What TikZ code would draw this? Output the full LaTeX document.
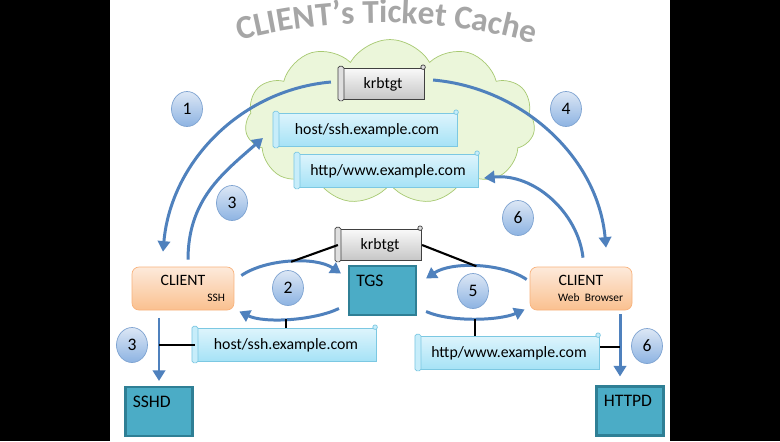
\documentclass[tikz,border=0pt]{standalone}
\usepackage{fontspec}
\setmainfont{Carlito}
\usepackage{tikz}
\usetikzlibrary{shapes.symbols, shapes.geometric, arrows.meta, calc, decorations.text}

\definecolor{flowblue}{HTML}{4F81BD}
\definecolor{cloudfill}{HTML}{EBF6DA}
\definecolor{cloudedge}{HTML}{A7C971}
\definecolor{skytop}{HTML}{DDF4FC}
\definecolor{skybot}{HTML}{A5E2F6}
\definecolor{skyedge}{HTML}{7CC8E2}
\definecolor{orangetop}{HTML}{FDEADB}
\definecolor{orangebot}{HTML}{FAC08F}
\definecolor{orangeedge}{HTML}{F8B27C}
\definecolor{tealfill}{HTML}{4BACC6}
\definecolor{tealedge}{HTML}{2F7F95}
\definecolor{numtop}{HTML}{DCE7F5}
\definecolor{numbot}{HTML}{8DB3E2}
\definecolor{numedge}{HTML}{7EA3D1}

\newcommand\titlefont{\fontsize{19}{19}\selectfont\bfseries\color{gray!70}}
\newcommand\subfont{\fontsize{6.5}{7}\selectfont}

\begin{document}
\begin{tikzpicture}[x=0.02cm, y=-0.02cm,
    flow/.style={draw=flowblue, line width=1.7pt, -{Triangle[length=6pt, width=7pt]}},
    link/.style={draw=black, line width=1.2pt},
    tkt/.style={rectangle, inner sep=0pt, font=\fontsize{9}{10}\selectfont},
    tktgray/.style={tkt, draw=black!75, top color=gray!5, bottom color=gray!45, minimum width=1.67cm, minimum height=0.62cm},
    tktblue/.style={tkt, draw=skyedge, top color=skytop, bottom color=skybot, minimum width=3.63cm, minimum height=0.66cm},
    rollgray/.style={draw=black!75, fill=gray!25, rounded corners=1pt},
    rollblue/.style={draw=skyedge, fill=skytop!60!skybot, rounded corners=1pt},
    client/.style={draw=orangeedge, top color=orangetop, bottom color=orangebot, rounded corners=4pt, minimum width=2.04cm, minimum height=0.86cm, text width=1.68cm, inner xsep=0.18cm, align=center, font=\fontsize{9}{11}\selectfont},
    server/.style={draw=tealedge, fill=tealfill, line width=1.2pt, minimum width=1.34cm, minimum height=0.98cm},
    servername/.style={anchor=north west, inner sep=0pt, xshift=0.16cm, yshift=-0.19cm, font=\fontsize{10}{12}\selectfont},
    num/.style={ellipse, draw=numedge, top color=numtop, bottom color=numbot, minimum width=0.62cm, minimum height=0.70cm, inner sep=0pt, font=\fontsize{10}{12}\selectfont}]

    \fill[black] (0,0) rectangle (780,441);
    \fill[white] (110,0) rectangle (670,441);

    \path[decorate, decoration={text along path, text align=center, text={|\titlefont|CLIENT's Ticket Cache}}]
        (225,45) .. controls (320,15) and (450,15) .. (548,48);

    \node[cloud, cloud puffs=11, cloud puff arc=120, aspect=1.7, draw=cloudedge, fill=cloudfill, minimum width=5.8cm, minimum height=3.3cm] (cache) at (390,122) {};

    \node[tktgray] (krbA) at (383,84) {krbtgt};
    \node[tktblue] (sshA) at (367,130) {host/ssh.example.com};
    \node[tktblue] (wwwA) at (388,171) {http/www.example.com};
    \node[tktgray] (krbB) at (380,245) {krbtgt};
    \node[tktblue] (sshB) at (286,345) {host/ssh.example.com};
    \node[tktblue] (wwwB) at (509,353) {http/www.example.com};

    \foreach \t/\r in {krbA/rollgray, sshA/rollblue, wwwA/rollblue, krbB/rollgray, sshB/rollblue, wwwB/rollblue} {
        \draw[\r] ($(\t.north west)+(-3,-2)$) rectangle ($(\t.south west)+(3,1)$);
        \draw[\r] ($(\t.north east)+(-2,-1)$) circle (1.3pt);
    }

    \node[client] (clientSsh) at (183,288.5) {CLIENT\\[-2pt]\hfill{\subfont SSH}};
    \node[client] (clientWeb) at (581,288.5) {CLIENT\\[-2pt]\hfill{\subfont Web Browser}};

    \node[server, label={[servername]north west:TGS}] (tgs) at (382.5,290.5) {};
    \node[server, label={[servername]north west:SSHD}] (sshd) at (159,411.5) {};
    \node[server, label={[servername]north west:HTTPD}] (httpd) at (630,411) {};

    \draw[flow] ($(krbA.west)+(-10,-2)$) .. controls +(-90,8) and +(8,-90) .. ($(clientSsh.north)+(-20,-15)$);
    \draw[flow] ($(clientSsh.north)+(5,-7)$) .. controls +(0,-60) and +(-40,35) .. ($(sshA.west)+(-13,8)$);
    \draw[flow] ($(krbA.east)+(8,-4)$) .. controls +(90,8) and +(-8,-90) .. ($(clientWeb.north)+(25,-19)$);
    \draw[flow] ($(clientWeb.north)+(2,-9)$) .. controls +(-5,-45) and +(50,-5) .. ($(wwwA.east)+(5,7)$);

    \draw[flow] ($(clientSsh.east)+(7,-13)$) .. controls +(25,-17) and +(-25,-17) .. ($(tgs.west)+(-7,-17)$) coordinate[pos=0.5] (m2a);
    \draw[flow] ($(tgs.west)+(-9,18)$) .. controls +(-25,12) and +(25,12) .. ($(clientSsh.east)+(5,23)$) coordinate[pos=0.5] (m2b);
    \draw[flow] ($(clientWeb.west)+(-3,-9)$) .. controls +(-25,-17) and +(25,-17) .. ($(tgs.east)+(9,-12)$) coordinate[pos=0.5] (m5a);
    \draw[flow] ($(tgs.east)+(9,21)$) .. controls +(25,11) and +(-25,11) .. ($(clientWeb.west)+(-5,21)$) coordinate[pos=0.5] (m5b);

    \draw[flow] ($(sshd.north)+(0,-68)$) -- ($(sshd.north)+(0,-5)$) coordinate[pos=0.43] (a3);
    \draw[flow] ($(httpd.north)+(-10,-71)$) -- ($(httpd.north)+(-10,-9)$) coordinate[pos=0.5] (a6);

    \coordinate (w6) at ($(wwwB.east)+(0,-6)$);
    \draw[link] (krbB.west) -- (m2a);
    \draw[link] (krbB.east) -- (m5a);
    \draw[link] (sshB.north) -- (sshB.north |- m2b);
    \draw[link] (wwwB.north -| m5b) -- (m5b);
    \draw[link] (sshB.west) -- (sshB.west -| a3);
    \draw[link] (w6) -- (w6 -| a6);

    \node[num] (n1) at (187,109) {1};
    \node[num] (n3a) at (232,203) {3};
    \node[num] (n4) at (566,109) {4};
    \node[num] (n6a) at (518,218) {6};
    \node[num] (n2) at (288,288) {2};
    \node[num] (n5) at (473,291) {5};
    \node[num] (n3b) at (132,345) {3};
    \node[num] (n6b) at (647,346) {6};
\end{tikzpicture}
\end{document}
